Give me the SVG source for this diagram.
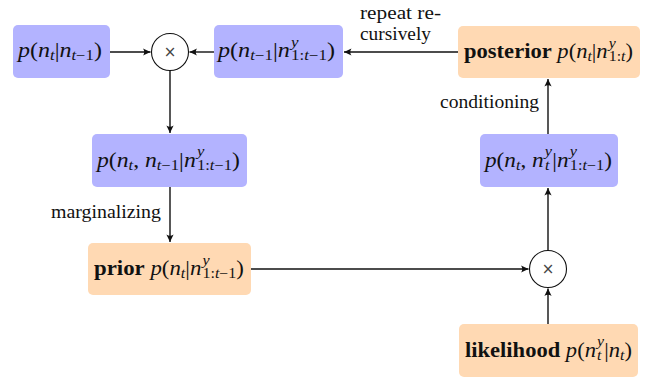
<svg xmlns="http://www.w3.org/2000/svg" width="654" height="378" viewBox="0 0 654 378">
<defs>
<style>
.blue{fill:#b3b3ff}
.orange{fill:#ffd9b3}
.m{font-family:"Liberation Serif","Times New Roman",serif;font-size:20px;font-style:italic;fill:#111}
.u{font-style:normal}
.b{font-style:normal;font-weight:bold}
.s{font-size:14px}
.lbl{font-family:"Liberation Serif","Times New Roman",serif;font-size:18.5px;fill:#111}
.op{fill:#fff;stroke:#111;stroke-width:1.1}
.x{font-family:"DejaVu Sans",sans-serif;font-size:15px;fill:#444}
.c{fill:none;stroke:#111;stroke-width:1.4;marker-end:url(#ah)}
</style>
<marker id="ah" viewBox="-8 -4 9 8" refX="0" refY="0" markerWidth="9" markerHeight="8" markerUnits="userSpaceOnUse" orient="auto">
<path d="M0,0 L-7.5,-3.6 Q-5,0 -7.5,3.6 Z" fill="#111"/>
</marker>
</defs>
<g id="connectors">
<line class="c" x1="110" y1="52" x2="150.5" y2="52"/>
<line class="c" x1="214" y1="52" x2="189.5" y2="52"/>
<line class="c" x1="458" y1="52" x2="344" y2="52"/>
<line class="c" x1="170" y1="70.5" x2="170" y2="133"/>
<line class="c" x1="170" y1="187" x2="170" y2="242"/>
<line class="c" x1="251" y1="269" x2="528.5" y2="269"/>
<line class="c" x1="548" y1="324" x2="548" y2="288.5"/>
<line class="c" x1="548" y1="250.5" x2="548" y2="188"/>
<line class="c" x1="548" y1="134" x2="548" y2="79"/>
<text class="lbl" x="360" y="19" textLength="81" lengthAdjust="spacingAndGlyphs">repeat re-</text>
<text class="lbl" x="360" y="40" textLength="71" lengthAdjust="spacingAndGlyphs">cursively</text>
<text class="lbl" x="51" y="218" textLength="110" lengthAdjust="spacingAndGlyphs">marginalizing</text>
<text class="lbl" x="440" y="108" textLength="99" lengthAdjust="spacingAndGlyphs">conditioning</text>
</g>
<g id="n1">
<rect class="blue" x="13" y="25" width="97" height="53" rx="5"/>
<text class="m" x="18" y="57" textLength="84" lengthAdjust="spacingAndGlyphs">p<tspan class="u">(</tspan>n<tspan class="s" dy="3">t</tspan><tspan class="u" dy="-3">|</tspan>n<tspan class="s" dy="3">t<tspan class="u">−1</tspan></tspan><tspan class="u" dy="-3">)</tspan></text>
</g>
<g id="mul1">
<circle class="op" cx="170" cy="52" r="18.5"/>
<text class="x" x="170" y="57" text-anchor="middle">×</text>
</g>
<g id="n2">
<rect class="blue" x="214" y="25" width="129" height="53" rx="5"/>
<text class="m" x="218" y="57" textLength="117" lengthAdjust="spacingAndGlyphs">p<tspan class="u">(</tspan>n<tspan class="s" dy="3">t<tspan class="u">−1</tspan></tspan><tspan class="u" dy="-3">|</tspan>n<tspan class="s" dx="1" dy="-10.5">y</tspan><tspan class="s" dx="-6.2" dy="13.5"><tspan class="u">1:</tspan>t<tspan class="u">−1</tspan></tspan><tspan class="u" dy="-3">)</tspan></text>
</g>
<g id="posterior">
<rect class="orange" x="458" y="26" width="182" height="52" rx="5"/>
<text class="m" x="464" y="58" textLength="169" lengthAdjust="spacingAndGlyphs"><tspan class="b">posterior</tspan> p<tspan class="u">(</tspan>n<tspan class="s" dy="3">t</tspan><tspan class="u" dy="-3">|</tspan>n<tspan class="s" dx="1" dy="-10.5">y</tspan><tspan class="s" dx="-6.2" dy="13.5"><tspan class="u">1:</tspan>t</tspan><tspan class="u" dy="-3">)</tspan></text>
</g>
<g id="joint">
<rect class="blue" x="92" y="134" width="155" height="53" rx="5"/>
<text class="m" x="97" y="166.5" textLength="143" lengthAdjust="spacingAndGlyphs">p<tspan class="u">(</tspan>n<tspan class="s" dy="3">t</tspan><tspan class="u" dy="-3">, </tspan>n<tspan class="s" dy="3">t<tspan class="u">−1</tspan></tspan><tspan class="u" dy="-3">|</tspan>n<tspan class="s" dx="1" dy="-10.5">y</tspan><tspan class="s" dx="-6.2" dy="13.5"><tspan class="u">1:</tspan>t<tspan class="u">−1</tspan></tspan><tspan class="u" dy="-3">)</tspan></text>
</g>
<g id="prior">
<rect class="orange" x="88" y="243" width="163" height="52" rx="5"/>
<text class="m" x="94" y="275" textLength="150" lengthAdjust="spacingAndGlyphs"><tspan class="b">prior</tspan> p<tspan class="u">(</tspan>n<tspan class="s" dy="3">t</tspan><tspan class="u" dy="-3">|</tspan>n<tspan class="s" dx="1" dy="-10.5">y</tspan><tspan class="s" dx="-6.2" dy="13.5"><tspan class="u">1:</tspan>t<tspan class="u">−1</tspan></tspan><tspan class="u" dy="-3">)</tspan></text>
</g>
<g id="joint2">
<rect class="blue" x="480" y="134" width="138" height="53" rx="5"/>
<text class="m" x="485" y="166.5" textLength="127" lengthAdjust="spacingAndGlyphs">p<tspan class="u">(</tspan>n<tspan class="s" dy="3">t</tspan><tspan class="u" dy="-3">, </tspan>n<tspan class="s" dx="1" dy="-10.5">y</tspan><tspan class="s" dx="-6.2" dy="13.5">t</tspan><tspan class="u" dx="2.5" dy="-3">|</tspan>n<tspan class="s" dx="1" dy="-10.5">y</tspan><tspan class="s" dx="-6.2" dy="13.5"><tspan class="u">1:</tspan>t<tspan class="u">−1</tspan></tspan><tspan class="u" dy="-3">)</tspan></text>
</g>
<g id="mul2">
<circle class="op" cx="548" cy="269" r="18.5"/>
<text class="x" x="548" y="274" text-anchor="middle">×</text>
</g>
<g id="likelihood">
<rect class="orange" x="459" y="324" width="179" height="53" rx="5"/>
<text class="m" x="465" y="356.5" textLength="167" lengthAdjust="spacingAndGlyphs"><tspan class="b">likelihood</tspan> p<tspan class="u">(</tspan>n<tspan class="s" dx="1" dy="-10.5">y</tspan><tspan class="s" dx="-6.2" dy="13.5">t</tspan><tspan class="u" dx="2.5" dy="-3">|</tspan>n<tspan class="s" dy="3">t</tspan><tspan class="u" dy="-3">)</tspan></text>
</g>
</svg>
